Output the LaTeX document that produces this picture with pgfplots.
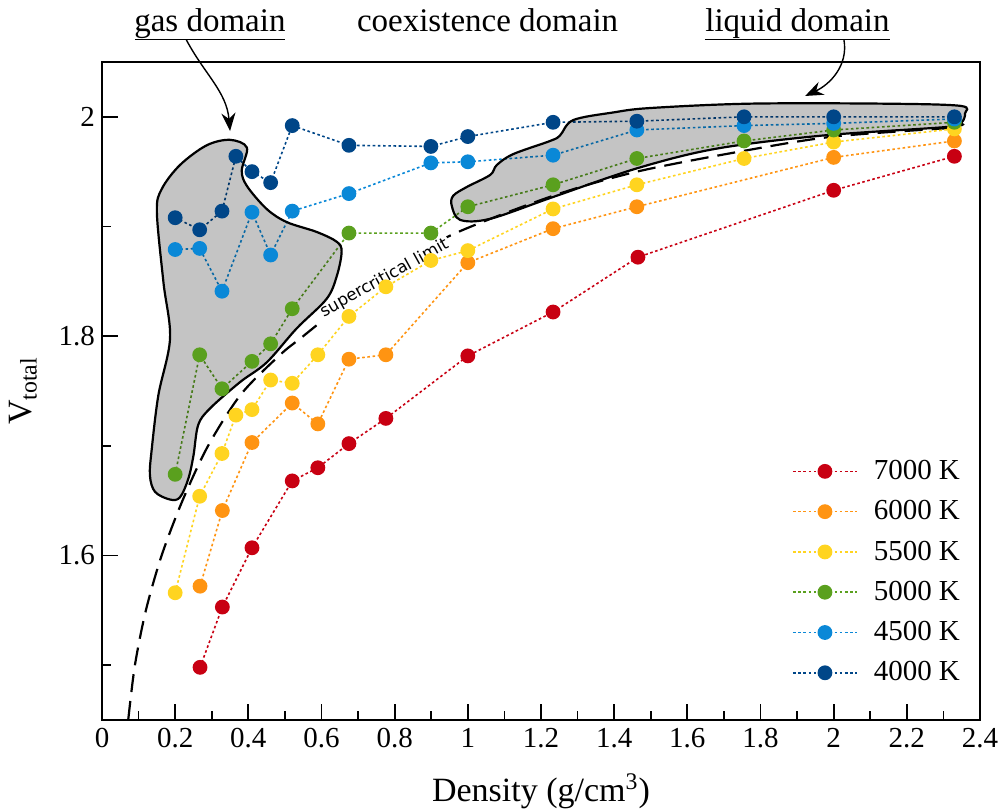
\documentclass[border=0pt]{standalone}
\usepackage{fontspec}
\setmainfont{Liberation Serif}
\newfontfamily\dejavu{DejaVu Sans}
\usepackage{pgfplots}
\pgfplotsset{compat=1.18}
\usetikzlibrary{arrows.meta}

\definecolor{c7000}{RGB}{200,0,18}
\definecolor{c6000}{RGB}{255,148,18}
\definecolor{c5500}{RGB}{255,212,32}
\definecolor{c5000}{RGB}{90,160,30}
\definecolor{c4500}{RGB}{10,136,215}
\definecolor{c4000}{RGB}{0,70,136}
\definecolor{regiongray}{RGB}{196,196,196}

\pgfplotsset{ser/.style={color=#1, line width=0.8pt, dash pattern=on 1.3pt off 1.3pt, mark=*, mark size=3.3pt, mark options={solid, fill=#1, draw=#1}}}

\begin{document}
\begin{tikzpicture}
\begin{axis}[
  scale only axis, width=439pt, height=329pt,
  xmin=0, xmax=2.4, ymin=1.45, ymax=2.05,
  xtick={0,0.2,0.4,0.6,0.8,1,1.2,1.4,1.6,1.8,2,2.2,2.4},
  minor x tick num=1,
  ytick={1.6,1.8,2}, minor ytick={1.5,1.7,1.9},
  tick align=inside, tick pos=left,
  major tick length=8pt, minor tick length=4.5pt,
  axis line style={line width=1.2pt},
  every tick/.style={black, line width=0.9pt},
  tick label style={font=\fontsize{14.5}{16}\selectfont},
  x tick label style={yshift=-0.5pt},
  /pgf/number format/assume math mode=true,
  xlabel={Density (g/cm\textsuperscript{3})},
  ylabel={V\textsubscript{total}},
  label style={font=\fontsize{17}{20}\selectfont},
  xlabel style={yshift=-6pt},
  ylabel style={yshift=4pt},
  legend style={at={(0.989,0.042)}, anchor=south east, draw=none, fill=none,
    font=\fontsize{14.5}{16}\selectfont, row sep=5pt,
    /tikz/every odd column/.append style={column sep=6pt}},
  legend cell align=left,
  legend image code/.code={\draw[mark repeat=2,mark phase=2,#1] plot coordinates {(0pt,0pt) (16pt,0pt) (32pt,0pt)};},
  clip=false,
]
\coordinate (bbsw) at (rel axis cs:0,0);
\coordinate (bbne) at (rel axis cs:1,1);
% supercritical limit
\addplot[forget plot, line width=1.1pt, dash pattern=on 9pt off 4.5pt, smooth] coordinates {
(0.072,1.451) (0.09,1.50) (0.12,1.55) (0.163,1.60) (0.22,1.65) (0.29,1.70)
(0.38,1.747) (0.487,1.783) (0.55,1.80) (0.7,1.84) (0.8,1.862) (0.96,1.893)
(1.233,1.928) (1.462,1.950) (1.755,1.969) (2.0,1.982) (2.33,1.990)};
\node[rotate=29, anchor=base, fill=white, inner sep=1.2pt, font=\dejavu\fontsize{8.3}{9.5}\selectfont] at (axis cs:0.778,1.849) {supercritical limit};

\addplot[ser=c7000] coordinates {
(0.268,1.498) (0.329,1.553) (0.410,1.607) (0.520,1.668) (0.590,1.680) (0.675,1.702)
(0.776,1.725) (1.000,1.782) (1.233,1.822) (1.465,1.872) (2.000,1.933) (2.330,1.964)};
\addlegendentry{7000 K}
\addplot[ser=c6000] coordinates {
(0.268,1.572) (0.329,1.641) (0.410,1.703) (0.520,1.739) (0.590,1.720) (0.675,1.779)
(0.776,1.783) (1.000,1.867) (1.233,1.898) (1.462,1.918) (2.000,1.963) (2.330,1.978)};
\addlegendentry{6000 K}
\addplot[ser=c5500] coordinates {
(0.200,1.566) (0.267,1.654) (0.328,1.693) (0.366,1.728) (0.410,1.733) (0.461,1.760)
(0.520,1.757) (0.590,1.783) (0.675,1.818) (0.776,1.845) (0.899,1.869) (1.000,1.878)
(1.233,1.916) (1.462,1.938) (1.755,1.962) (2.000,1.977) (2.330,1.989)};
\addlegendentry{5500 K}
\addplot[ser=c5000] coordinates {
(0.200,1.674) (0.267,1.783) (0.328,1.752) (0.410,1.777) (0.461,1.793) (0.520,1.825)
(0.675,1.894) (0.899,1.894) (1.000,1.918) (1.233,1.938) (1.462,1.962) (1.755,1.978)
(2.000,1.988) (2.330,1.995)};
\addlegendentry{5000 K}
\addplot[ser=c4500] coordinates {
(0.200,1.879) (0.267,1.880) (0.328,1.841) (0.410,1.913) (0.461,1.874) (0.520,1.914)
(0.675,1.930) (0.899,1.958) (1.000,1.959) (1.233,1.965) (1.462,1.988) (1.755,1.992)
(2.000,1.994) (2.330,1.998)};
\addlegendentry{4500 K}
\addplot[ser=c4000] coordinates {
(0.200,1.908) (0.267,1.897) (0.328,1.914) (0.366,1.964) (0.410,1.950) (0.461,1.940)
(0.520,1.992) (0.675,1.974) (0.899,1.973) (1.000,1.982) (1.233,1.995) (1.462,1.996)
(1.755,2.000) (2.000,2.000) (2.330,2.000)};
\addlegendentry{4000 K}

% gas domain
\draw[line width=1.1pt, fill=regiongray, blend mode=multiply] plot[smooth cycle, tension=0.55] coordinates {
(axis cs:0.350,1.979) (axis cs:0.396,1.972) (axis cs:0.382,1.951) (axis cs:0.396,1.937)
(axis cs:0.450,1.916) (axis cs:0.505,1.904) (axis cs:0.587,1.895) (axis cs:0.642,1.886)
(axis cs:0.655,1.877) (axis cs:0.642,1.855) (axis cs:0.614,1.834) (axis cs:0.532,1.807)
(axis cs:0.450,1.776) (axis cs:0.377,1.758) (axis cs:0.295,1.734) (axis cs:0.263,1.719)
(axis cs:0.250,1.691) (axis cs:0.236,1.670) (axis cs:0.213,1.653) (axis cs:0.186,1.651)
(axis cs:0.145,1.658) (axis cs:0.131,1.673) (axis cs:0.136,1.697) (axis cs:0.154,1.746)
(axis cs:0.186,1.798) (axis cs:0.168,1.849) (axis cs:0.150,1.913) (axis cs:0.163,1.934)
(axis cs:0.213,1.956) (axis cs:0.286,1.974)};
% liquid domain
\draw[line width=1.1pt, fill=regiongray, blend mode=multiply] plot[smooth cycle, tension=0.55] coordinates {
(axis cs:0.956,1.919) (axis cs:0.979,1.906) (axis cs:1.061,1.907) (axis cs:1.234,1.927)
(axis cs:1.462,1.953) (axis cs:1.680,1.971) (axis cs:1.972,1.983) (axis cs:2.318,1.991)
(axis cs:2.350,1.995) (axis cs:2.359,2.003) (axis cs:2.346,2.010) (axis cs:2.136,2.012)
(axis cs:1.771,2.012) (axis cs:1.498,2.008) (axis cs:1.398,2.004) (axis cs:1.288,1.997)
(axis cs:1.252,1.983) (axis cs:1.225,1.978) (axis cs:1.124,1.966) (axis cs:1.079,1.956)
(axis cs:1.061,1.947) (axis cs:0.997,1.936) (axis cs:0.960,1.928)};

% annotations
\node[anchor=base, font=\fontsize{16.5}{19}\selectfont, inner sep=0pt] at (axis cs:0.295,2.0775) {gas domain};
\node[anchor=base, font=\fontsize{16.5}{19}\selectfont, inner sep=0pt] at (axis cs:1.054,2.0775) {coexistence domain};
\node[anchor=base, font=\fontsize{16.5}{19}\selectfont, inner sep=0pt] at (axis cs:1.901,2.0775) {liquid domain};
\draw[line width=0.9pt] (axis cs:0.090,2.0705) -- (axis cs:0.500,2.0705);
\draw[line width=0.9pt] (axis cs:1.648,2.0705) -- (axis cs:2.154,2.0705);
\draw[line width=0.7pt, -{Stealth[length=9pt,width=7pt]}] (axis cs:0.230,2.0705) to[out=-62, in=95] (axis cs:0.350,1.987);
\draw[line width=0.7pt, -{Stealth[length=9pt,width=7pt]}] (axis cs:2.028,2.0705) to[out=-80, in=25] (axis cs:1.922,2.019);
\end{axis}
\pgfresetboundingbox
\path ([shift={(-51pt,-44.5pt)}]bbsw) rectangle ([shift={(10.5pt,31pt)}]bbne);
\end{tikzpicture}
\end{document}
